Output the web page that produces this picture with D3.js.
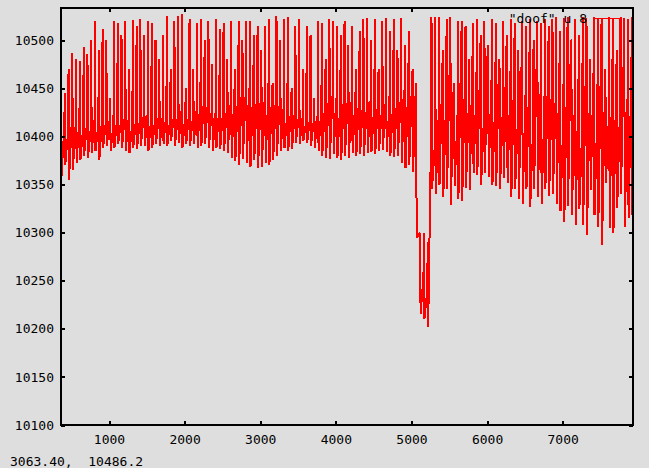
<!DOCTYPE html>
<html>
<head>
<meta charset="utf-8">
<script src="https://cdn.jsdelivr.net/npm/d3@7"></script>
<style>
body { margin: 0; background: #dedede; }
svg { display: block; }
text { font-family: "DejaVu Sans Mono", monospace; font-size: 13px; fill: #000; white-space: pre; }
</style>
</head>
<body>
<svg></svg>
<script>
// samples are one block every 50 units starting at 365
const xStart = 365, xStep = 50;

// spike tops per block
const highs = [
  10455, 10445, 10470, 10487, 10480, 10478, 10493, 10486, 10500, 10520,
  10490, 10512, 10500, 10440, 10520, 10518, 10505, 10520, 10470, 10521,
  10515, 10522, 10505, 10520, 10518, 10500, 10480, 10505, 10525, 10470,
  10520, 10525, 10527, 10450, 10522, 10470, 10518, 10522, 10500, 10520,
  10475, 10522, 10512, 10518, 10480, 10520, 10470, 10520, 10500, 10520,
  10520, 10505, 10515, 10490, 10515, 10522, 10455, 10525, 10500, 10522,
  10524, 10450, 10515, 10522, 10470, 10515, 10505, 10440, 10520, 10518,
  10480, 10522, 10520, 10515, 10505, 10520, 10495, 10515, 10470, 10510,
  10522, 10523, 10500, 10522, 10470, 10520, 10523, 10510, 10522, 10490,
  10523, 10495, 10510, 10470, 10355, 10270, 10300, 10290, 10524, 10524,
  10524, 10490, 10522, 10524, 10455, 10520, 10520, 10515, 10480, 10518,
  10522, 10505, 10520, 10490, 10522, 10518, 10470, 10520, 10505, 10522,
  10518, 10490, 10520, 10515, 10522, 10500, 10520, 10518, 10522, 10515,
  10522, 10524, 10510, 10523, 10524, 10500, 10522, 10505, 10524, 10523,
  10480, 10524, 10522, 10523, 10470, 10524, 10522, 10490, 10524, 10523,
  10522, 10524
];

// spike bottoms per block
const lows = [
  10358, 10370, 10355, 10365, 10372, 10375, 10380, 10378, 10383, 10385,
  10375, 10388, 10390, 10385, 10388, 10392, 10388, 10385, 10383, 10388,
  10387, 10390, 10390, 10385, 10388, 10392, 10390, 10392, 10390, 10395,
  10390, 10393, 10388, 10392, 10390, 10392, 10388, 10390, 10392, 10388,
  10385, 10388, 10387, 10385, 10383, 10378, 10374, 10370, 10377, 10372,
  10368, 10375, 10367, 10368, 10372, 10370, 10375, 10380, 10385, 10388,
  10385, 10387, 10393, 10392, 10395, 10393, 10390, 10388, 10385, 10380,
  10378, 10377, 10382, 10378, 10375, 10380, 10378, 10383, 10380, 10382,
  10380, 10383, 10384, 10382, 10385, 10386, 10384, 10380, 10379, 10380,
  10372, 10367, 10370, 10363, 10295, 10215, 10210, 10202, 10345, 10340,
  10350, 10337, 10345, 10329, 10348, 10335, 10333, 10346, 10344, 10362,
  10360, 10350, 10362, 10358, 10350, 10348, 10345, 10357, 10352, 10337,
  10345, 10335, 10330, 10345, 10327, 10345, 10337, 10330, 10345, 10338,
  10340, 10330, 10322, 10311, 10328, 10318, 10308, 10325, 10308, 10297,
  10344, 10318, 10306, 10287, 10352, 10305, 10300, 10326, 10340, 10306,
  10315, 10318
];

// level the trace climbs back to before the next spike
const mids = [
  10410, 10405, 10418, 10412, 10420, 10410, 10415, 10408, 10418, 10412,
  10420, 10415, 10418, 10412, 10420, 10416, 10422, 10418, 10415, 10420,
  10418, 10422, 10416, 10420, 10418, 10422, 10420, 10425, 10418, 10422,
  10420, 10426, 10422, 10424, 10420, 10428, 10440, 10445, 10438, 10428,
  10425, 10432, 10428, 10430, 10435, 10445, 10450, 10455, 10448, 10452,
  10456, 10450, 10445, 10440, 10448, 10452, 10445, 10438, 10430, 10425,
  10432, 10428, 10420, 10418, 10416, 10420, 10417, 10422, 10430, 10438,
  10445, 10448, 10440, 10435, 10448, 10442, 10438, 10440, 10445, 10436,
  10430, 10438, 10435, 10440, 10428, 10436, 10432, 10438, 10440, 10442,
  10450, 10458, 10462, 10455, 10300, 10255, 10240, 10398, 10390, 10420,
  10470, 10440, 10485, 10455, 10420, 10500, 10465, 10435, 10490, 10450,
  10475, 10420, 10495, 10460, 10440, 10480, 10430, 10500, 10455, 10470,
  10420, 10485, 10445, 10465, 10410, 10490, 10450, 10430, 10475, 10460,
  10445, 10480, 10420, 10465, 10500, 10430, 10455, 10410, 10485, 10440,
  10470, 10425, 10495, 10450, 10415, 10480, 10460, 10430, 10490, 10445,
  10470, 10420
];

const xTicks = [1000, 2000, 3000, 4000, 5000, 6000, 7000];
const yTicks = [10100, 10150, 10200, 10250, 10300, 10350, 10400, 10450, 10500];
const legendLabel = '"doof" u 8';
const statusText = "3063.40,  10486.2";

var width = 649, height = 468;
var plotLeft = 61, plotRight = 633, plotTop = 7.5, plotBottom = 425;

const x = d3.scaleLinear().domain([365, 7930]).range([plotLeft, plotRight]);
const y = d3.scaleLinear().domain([10100, 10534]).range([plotBottom, plotTop]);

var svg = d3.select("svg")
    .attr("width", width)
    .attr("height", height)
    .attr("viewBox", [0, 0, width, height]);

svg.append("clipPath").attr("id", "plot-clip")
    .append("rect")
    .attr("x", plotLeft).attr("y", plotTop)
    .attr("width", plotRight - plotLeft).attr("height", plotBottom - plotTop);

// build the trace: top of spike, straight down, then back up to the body
const points = [];
highs.forEach((h, i) => {
    const x0 = xStart + i * xStep;
    points.push([x0, h]);
    points.push([x0 + 6, lows[i]]);
    points.push([x0 + 44, mids[i]]);
});

const line = d3.line()
    .x(d => x(d[0]))
    .y(d => y(d[1]));

svg.append("path")
    .datum(points)
    .attr("clip-path", "url(#plot-clip)")
    .attr("fill", "none")
    .attr("stroke", "#ff0000")
    .attr("stroke-width", 2)
    .attr("stroke-linejoin", "miter")
    .attr("stroke-miterlimit", 1)
    .attr("shape-rendering", "crispEdges")
    .attr("d", line);

// axes, ticks pointing inward on all four sides
function styleAxis(g) {
    g.select(".domain").remove();
    g.selectAll(".tick line")
        .attr("stroke", "#000")
        .attr("stroke-width", 2)
        .attr("shape-rendering", "crispEdges");
    g.selectAll("text")
        .attr("font-family", '"DejaVu Sans Mono", monospace')
        .attr("font-size", 13)
        .attr("fill", "#000");
}

svg.append("g")
    .attr("transform", `translate(0,${plotBottom})`)
    .call(d3.axisBottom(x).tickValues(xTicks).tickSize(-4).tickPadding(10).tickFormat(d3.format("d")))
    .call(styleAxis);

svg.append("g")
    .attr("transform", `translate(0,${plotTop})`)
    .call(d3.axisTop(x).tickValues(xTicks).tickSize(-4).tickFormat(""))
    .call(styleAxis);

svg.append("g")
    .attr("transform", `translate(${plotLeft},0)`)
    .call(d3.axisLeft(y).tickValues(yTicks).tickSize(-4).tickPadding(7).tickFormat(d3.format("d")))
    .call(styleAxis);

svg.append("g")
    .attr("transform", `translate(${plotRight},0)`)
    .call(d3.axisRight(y).tickValues(yTicks).tickSize(-4).tickFormat(""))
    .call(styleAxis);

// frame
svg.append("rect")
    .attr("x", plotLeft).attr("y", plotTop)
    .attr("width", plotRight - plotLeft).attr("height", plotBottom - plotTop)
    .attr("fill", "none")
    .attr("stroke", "#000")
    .attr("stroke-width", 2)
    .attr("shape-rendering", "crispEdges");

// key
svg.append("text")
    .attr("x", 587)
    .attr("y", 18)
    .attr("dy", "0.35em")
    .attr("text-anchor", "end")
    .text(legendLabel);

svg.append("line")
    .attr("x1", 593).attr("x2", 622)
    .attr("y1", 18).attr("y2", 18)
    .attr("stroke", "#ff0000")
    .attr("shape-rendering", "crispEdges");

// mouse position readout
svg.append("text")
    .attr("x", 10)
    .attr("y", 461)
    .attr("dy", "0.35em")
    .text(statusText);
</script>
</body>
</html>
